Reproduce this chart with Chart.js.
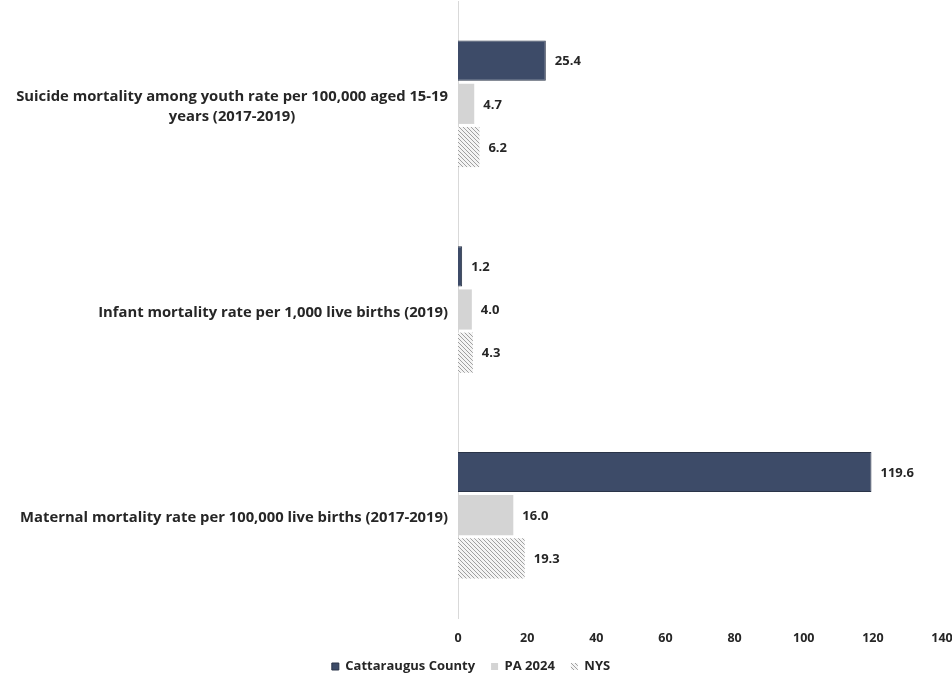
<html>
<head>
<script src="https://cdn.jsdelivr.net/npm/chart.js@4.4.1/dist/chart.umd.min.js"></script>
<style>
  body { margin: 0; background: #fff; }
  #wrap { width: 952px; height: 677px; }
</style>
</head>
<body>
<div id="wrap"><canvas id="myChart" width="952" height="677"></canvas></div>
<script>
  // indicators, top to bottom
  const categories = [
    ['Suicide mortality among youth rate per 100,000 aged 15-19', 'years (2017-2019)'],
    ['Infant mortality rate per 1,000 live births (2019)'],
    ['Maternal mortality rate per 100,000 live births (2017-2019)']
  ];
  const seriesNames = ['Cattaraugus County', 'PA 2024', 'NYS'];
  const cattaraugus = [25.4, 1.2, 119.6];
  const pa2024 = [4.7, 4.0, 16.0];
  const nys = [6.2, 4.3, 19.3];
  const xTicks = [0, 20, 40, 60, 80, 100, 120, 140];

  const FONT = '"Open Sans", Lato, sans-serif';

  // diagonal hatch for the NYS bars
  let makeHatch = () => {
    let c = document.createElement('canvas');
    c.width = 4; c.height = 4;
    let g = c.getContext('2d');
    g.fillStyle = '#f4f4f4';
    g.fillRect(0, 0, 4, 4);
    g.strokeStyle = '#a0a0a0';
    g.lineWidth = 1;
    g.beginPath();
    g.moveTo(-1, -1); g.lineTo(5, 5);
    g.moveTo(-1, 3); g.lineTo(1, 5);
    g.moveTo(3, -1); g.lineTo(5, 1);
    g.stroke();
    return g.createPattern(c, 'repeat');
  };

  // value labels at the end of each bar
  let valueLabels = {
    id: 'valueLabels',
    afterDatasetsDraw(chart) {
      let ctx = chart.ctx;
      ctx.save();
      ctx.font = 'bold 13px ' + FONT;
      ctx.fillStyle = '#262626';
      ctx.textAlign = 'left';
      ctx.textBaseline = 'middle';
      chart.data.datasets.forEach((ds, i) => {
        chart.getDatasetMeta(i).data.forEach((bar, j) => {
          ctx.fillText(ds.data[j].toFixed(1), bar.x + 9, bar.y + 1);
        });
      });
      ctx.restore();
    }
  };

  // category labels: each block right-aligned to the axis, lines centred inside it
  let categoryLabels = {
    id: 'categoryLabels',
    afterDraw(chart) {
      let ctx = chart.ctx;
      let scale = chart.scales.y;
      ctx.save();
      ctx.font = 'bold 14.8px ' + FONT;
      ctx.fillStyle = '#262626';
      ctx.textAlign = 'center';
      ctx.textBaseline = 'middle';
      let right = scale.right - 10;
      const lineH = 20;
      categories.forEach((lines, i) => {
        let y = scale.getPixelForTick(i) + 3;
        let w = Math.max(...lines.map(l => ctx.measureText(l).width));
        let cx = right - w / 2;
        let y0 = y - (lines.length - 1) * lineH / 2;
        lines.forEach((l, k) => ctx.fillText(l, cx, y0 + k * lineH));
      });
      ctx.restore();
    }
  };

  let ctx = document.getElementById('myChart').getContext('2d');
  let myChart = new Chart(ctx, {
    type: 'bar',
    data: {
      labels: categories,
      datasets: [{
        label: seriesNames[0],
        data: cattaraugus,
        backgroundColor: '#3d4b68',
        borderColor: '#2a3448',
        borderWidth: 1
      }, {
        label: seriesNames[1],
        data: pa2024,
        backgroundColor: '#d4d4d4',
        borderWidth: 0
      }, {
        label: seriesNames[2],
        data: nys,
        backgroundColor: makeHatch(),
        borderWidth: 0
      }]
    },
    options: {
      indexAxis: 'y',
      responsive: false,
      animation: false,
      categoryPercentage: 0.63,
      barPercentage: 0.93,
      layout: { padding: { top: 1, right: 10, left: 0, bottom: 0 } },
      scales: {
        x: {
          min: 0,
          max: 140,
          afterBuildTicks: s => { s.ticks = xTicks.map(v => ({ value: v })); },
          afterFit: s => { s.paddingRight = 0; s.paddingLeft = 0; s.height = 26; },
          grid: { display: false },
          border: { display: false },
          ticks: {
            color: '#262626',
            font: { family: FONT, size: 12.5, weight: 'bold' },
            padding: 5
          }
        },
        y: {
          afterFit: s => { s.width = 458; },
          grid: { display: false },
          border: { display: true, color: '#d9d9d9', width: 1 },
          ticks: { display: false }
        }
      },
      plugins: {
        legend: {
          position: 'bottom',
          maxHeight: 33,
          labels: {
            boxWidth: 7,
            boxHeight: 7,
            padding: 16,
            color: '#262626',
            font: { family: FONT, size: 13, weight: 'bold' }
          }
        },
        tooltip: { enabled: false }
      }
    },
    plugins: [valueLabels, categoryLabels]
  });
</script>
</body>
</html>
